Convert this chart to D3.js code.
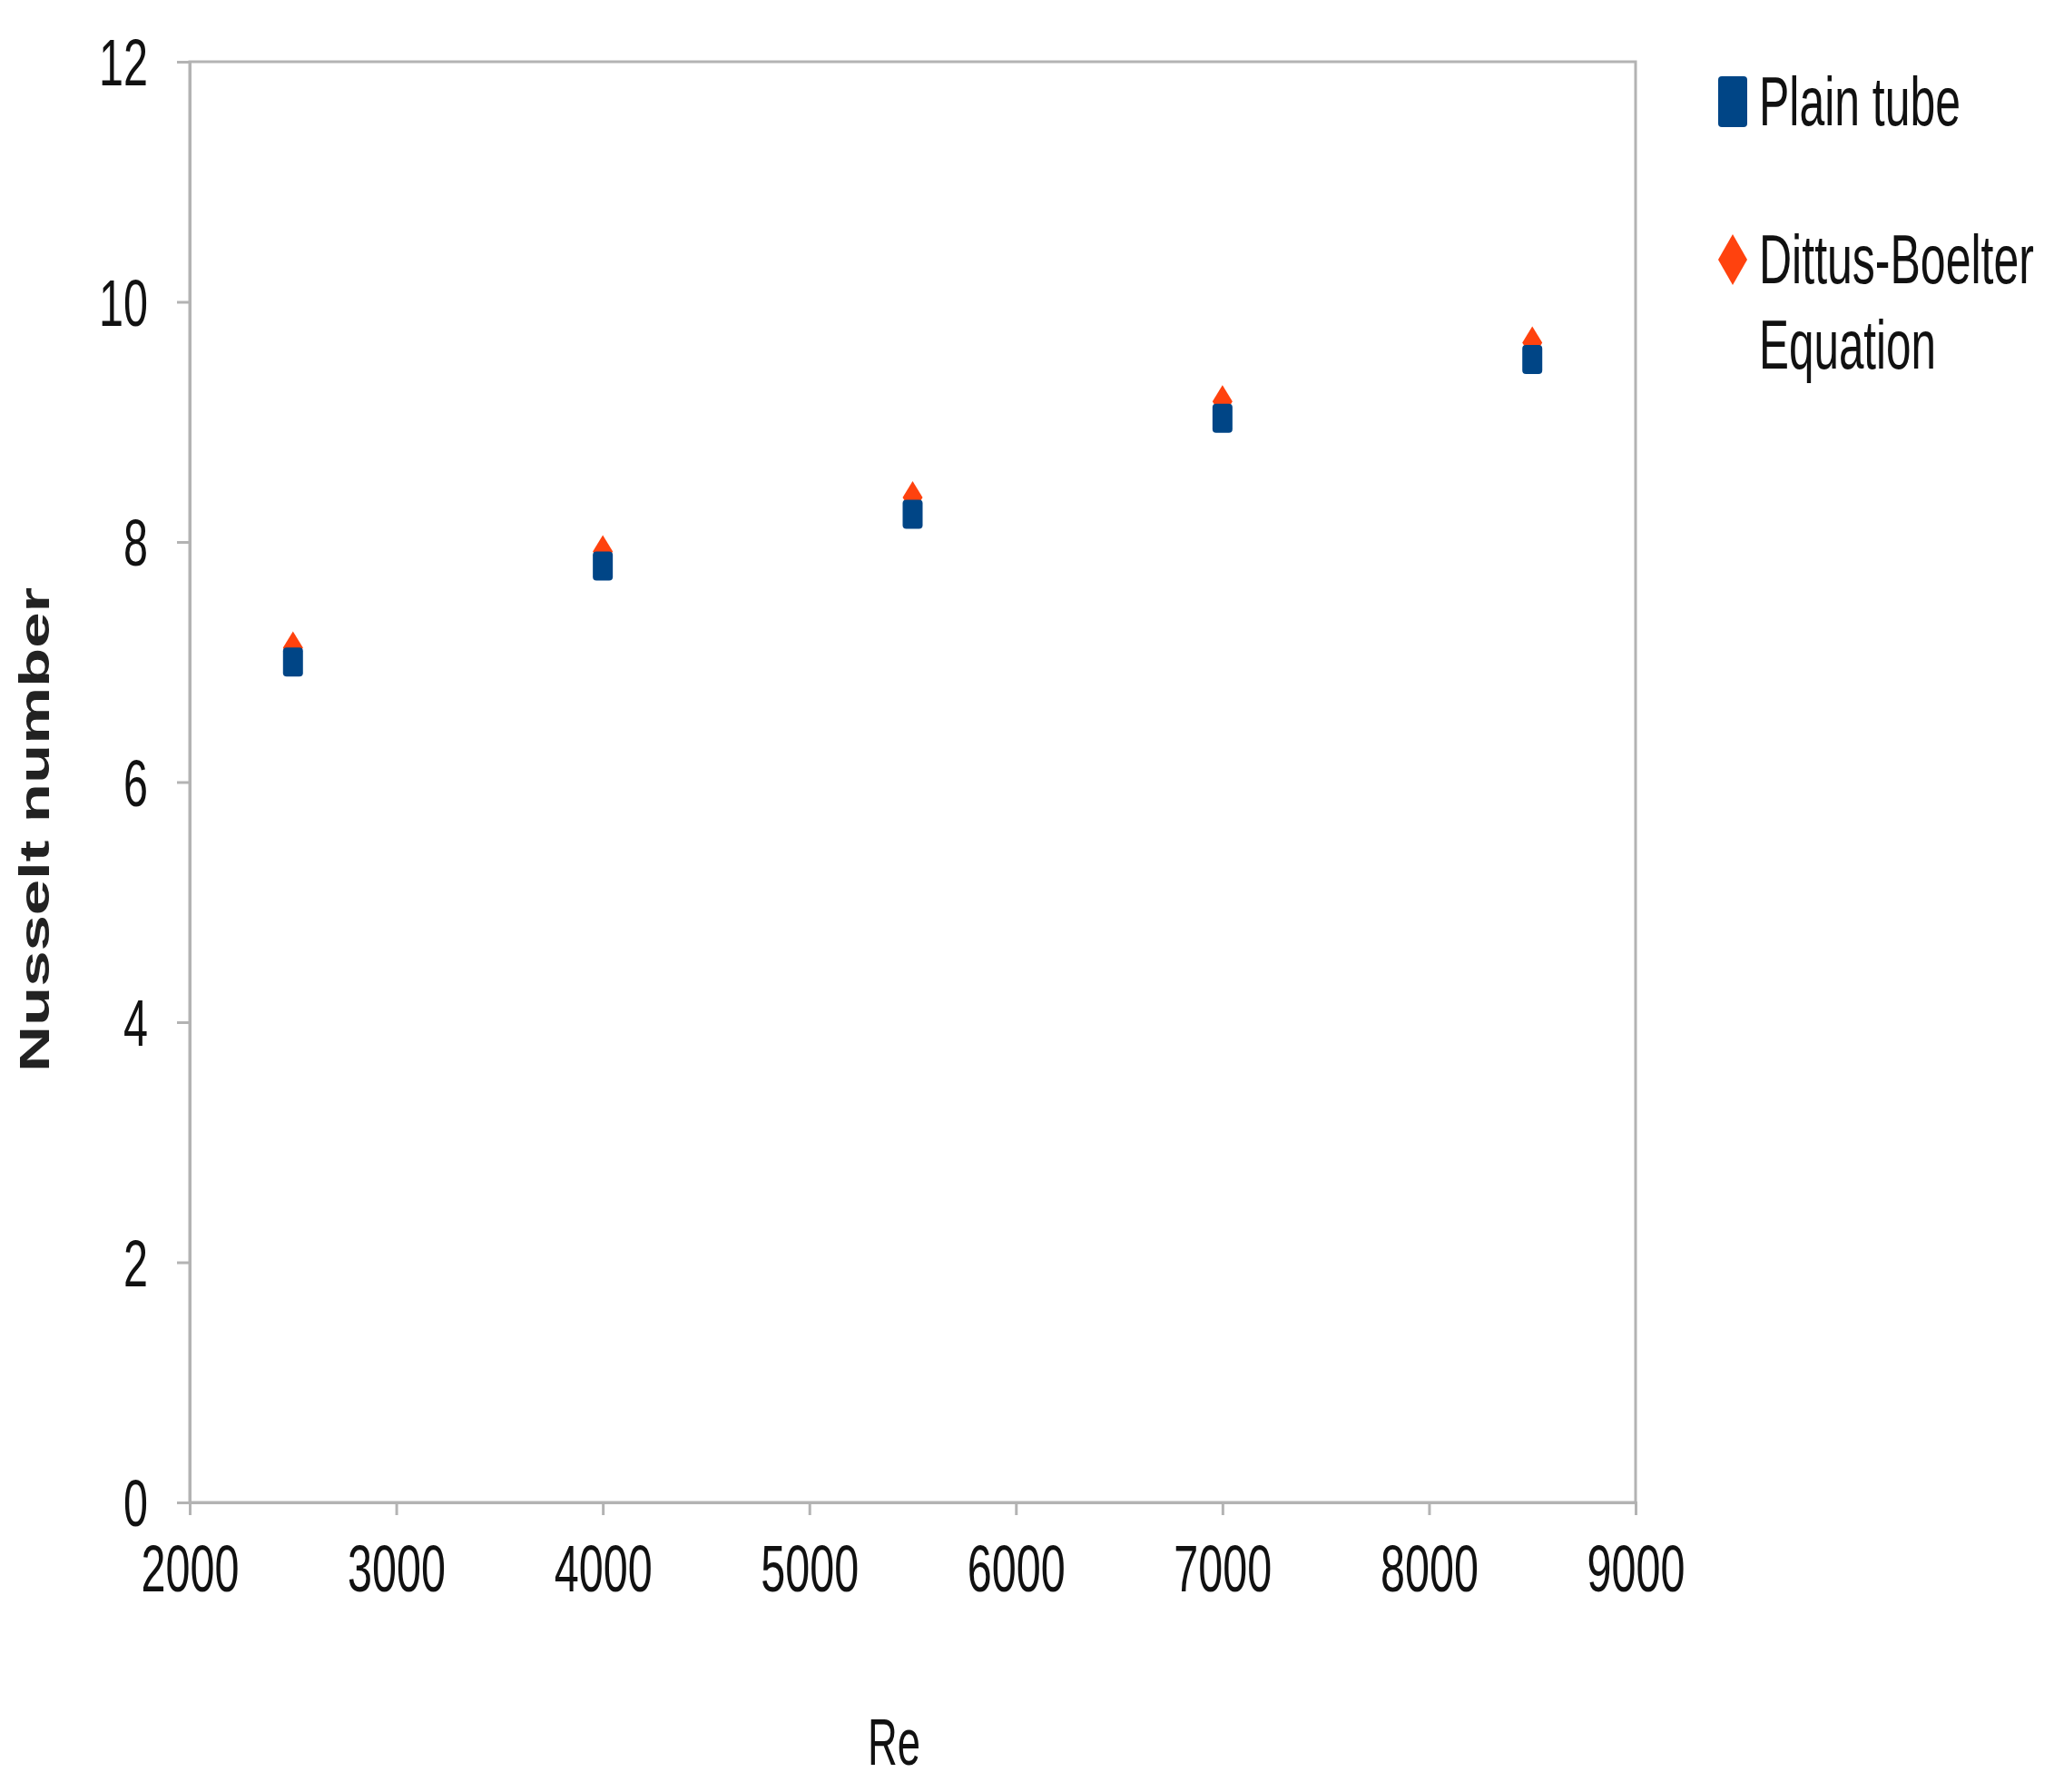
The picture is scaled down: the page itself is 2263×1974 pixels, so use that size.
<!DOCTYPE html><html><head><script src="https://cdn.jsdelivr.net/npm/d3@7"></script>
<style>body{margin:0;background:#fff}text{font-family:"Liberation Sans",sans-serif}</style></head><body>
<svg id="c" width="2263" height="1974"></svg>
<script>
const re=[2500,4000,5500,7000,8500];
const plainTube=[7.0,7.8,8.23,9.03,9.52];
const dittus=[7.12,7.92,8.37,9.17,9.66];
const xTicks=[2000,3000,4000,5000,6000,7000,8000,9000];
const yTicks=[0,2,4,6,8,10,12];
const svg=d3.select("#c");
const L=209,R=1802,T=68,B=1655;
const x=d3.scaleLinear().domain([2000,9000]).range([L,R]);
const y=d3.scaleLinear().domain([0,12]).range([B,T]);
svg.append("rect").attr("x",L).attr("y",T).attr("width",R-L).attr("height",B-T).attr("fill","none").attr("stroke","#b3b3b3").attr("stroke-width",3);
const xa=svg.append("g").attr("transform",`translate(0,${B})`).call(d3.axisBottom(x).tickValues(xTicks).tickFormat(d3.format("d")).tickSize(14).tickPadding(30));
const ya=svg.append("g").attr("transform",`translate(${L},0)`).call(d3.axisLeft(y).tickValues(yTicks).tickFormat(d3.format("d")).tickSize(14).tickPadding(32));
[xa,ya].forEach(a=>{a.select(".domain").attr("stroke","#b3b3b3").attr("stroke-width",3);a.selectAll("line").attr("stroke","#b3b3b3").attr("stroke-width",3);
 a.selectAll("text").attr("font-size",72).attr("fill","#111").attr("font-family","Liberation Sans")
  .attr("lengthAdjust","spacingAndGlyphs").attr("textLength",d=>String(d).length*27);});
xa.selectAll("text").attr("dy","0.75em");
ya.selectAll("text").attr("dy","0.36em");
const sq=(sel,cx,cy,w,h)=>sel.append("rect").attr("x",cx-w/2).attr("y",cy-h/2).attr("width",w).attr("height",h).attr("rx",4).attr("fill","#004586");
const di=(sel,cx,cy,w,h)=>sel.append("path").attr("d",`M${cx},${cy-h/2}L${cx+w/2},${cy}L${cx},${cy+h/2}L${cx-w/2},${cy}Z`).attr("fill","#ff420e");
re.forEach((r,i)=>di(svg,x(r),y(dittus[i]),22,36));
re.forEach((r,i)=>sq(svg,x(r),y(plainTube[i]),22,32));
const t=(xx,yy,s,fs,len,anchor,extra)=>svg.append("text").attr("x",xx).attr("y",yy).attr("font-size",fs).attr("fill","#111").attr("text-anchor",anchor||"start").attr("lengthAdjust","spacingAndGlyphs").attr("textLength",len).text(s);
svg.append("text").attr("transform","translate(54,914) rotate(-90)").attr("text-anchor","middle").attr("font-size",46).attr("font-weight","bold").attr("fill","#222").attr("lengthAdjust","spacingAndGlyphs").attr("textLength",534).text("Nusselt number");
t(985,1944,"Re",72,58,"middle");
sq(svg,1909,112,32,56);
t(1938,112+26,"Plain tube",76,222);
di(svg,1909,286,32,56);
t(1938,286+26,"Dittus-Boelter",76,303);
t(1938,380+26,"Equation",76,195);
</script></body></html>
